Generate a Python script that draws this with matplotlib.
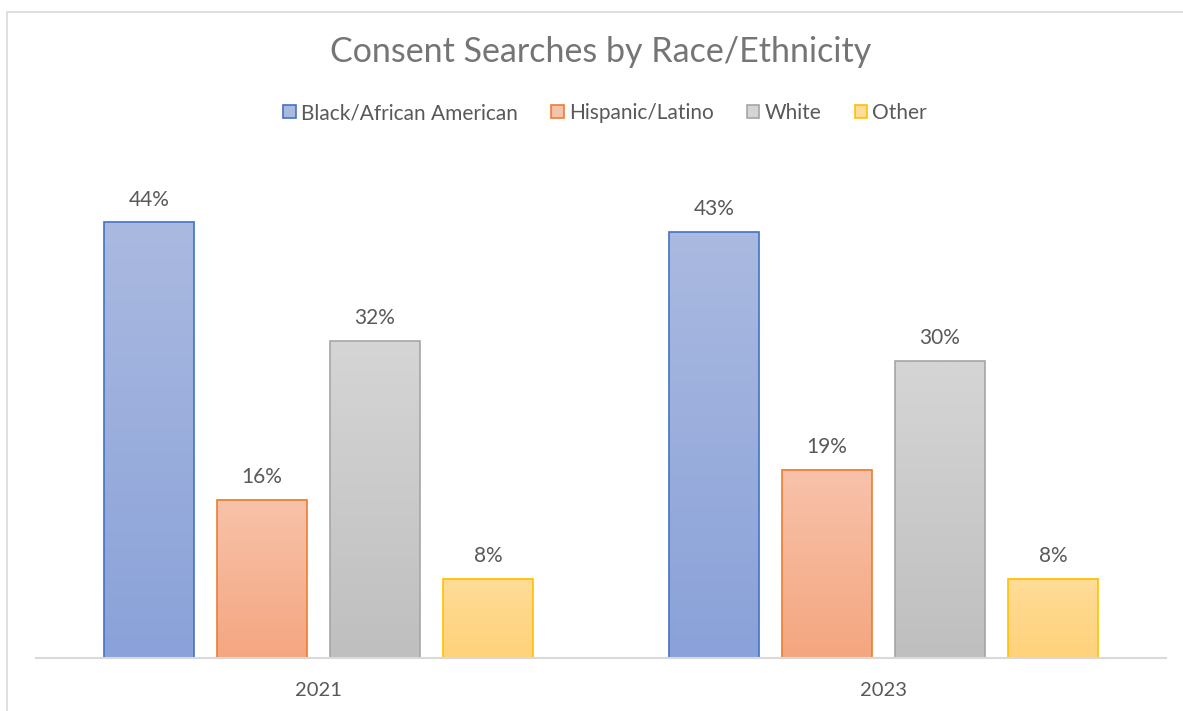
import matplotlib
matplotlib.use("Agg")
import matplotlib.pyplot as plt
import numpy as np
from matplotlib.colors import LinearSegmentedColormap
from matplotlib.patches import Rectangle, Patch

years = ["2021", "2023"]
groups = ["Black/African American", "Hispanic/Latino", "White", "Other"]
values = {
    "Black/African American": [44, 43],
    "Hispanic/Latino": [16, 19],
    "White": [32, 30],
    "Other": [8, 8],
}
edge_colors = ["#4472C4", "#ED7D31", "#A5A5A5", "#FFC000"]
top_colors = ["#AAB9E0", "#F8C2AA", "#D5D5D5", "#FFDC98"]
bottom_colors = ["#8AA2D9", "#F4A680", "#BFBFBF", "#FFD27A"]

plt.rcParams['font.family'] = ['Lato', 'DejaVu Sans']
W, H = 1183, 711
fig = plt.figure(figsize=(W / 100, H / 100), dpi=100)
fig.patch.set_facecolor("white")

# chart border
fig.patches.append(Rectangle((7 / W, -0.2), 1.2, 1.2 - 12 / H + 0.0, transform=fig.transFigure,
                             fill=False, edgecolor="#D9D9D9", linewidth=1.2, zorder=0))

ax = fig.add_axes([36 / W, (H - 658) / H, 1130 / W, (658 - 163) / H])
ax.set_xlim(-0.5, 1.5)
ax.set_ylim(0, 50)

x = np.arange(len(years))
width = 0.159
offsets = [-0.3, -0.1, 0.1, 0.3]
handles = []
for i, g in enumerate(groups):
    bars = ax.bar(x + offsets[i], values[g], width=width, facecolor="none",
                  edgecolor=edge_colors[i], linewidth=1.2, zorder=3)
    cmap = LinearSegmentedColormap.from_list(g, [bottom_colors[i], top_colors[i]])
    for b, v in zip(bars, values[g]):
        x0, y0 = b.get_x(), b.get_y()
        grad = np.linspace(0, 1, 100).reshape(-1, 1)
        ax.imshow(grad, cmap=cmap, origin="lower", aspect="auto",
                  extent=(x0, x0 + b.get_width(), y0, y0 + b.get_height()), zorder=2)
        ax.text(b.get_x() + b.get_width() / 2, v + 1.3, f"{v}%", ha="center", va="bottom",
                fontsize=15, color="#595959")
    handles.append(Patch(facecolor=top_colors[i], edgecolor=edge_colors[i], linewidth=1.2, label=g))

ax.set_xlim(-0.5, 1.5)
ax.set_ylim(0, 50)
ax.set_xticks(x)
ax.set_xticklabels(years, fontsize=14.5, color="#595959")
ax.tick_params(axis="x", length=0, pad=17)
ax.set_yticks([])
for s in ["top", "right", "left"]:
    ax.spines[s].set_visible(False)
ax.spines["bottom"].set_color("#D9D9D9")
ax.spines["bottom"].set_linewidth(1.5)
ax.spines["bottom"].set_zorder(4)

fig.text(601 / W, 1 - 52 / H, "Consent Searches by Race/Ethnicity", ha="center", va="center",
         fontsize=24.5, color="#757575")
fig.legend(handles=handles, loc="center", bbox_to_anchor=(605 / W, 1 - 113 / H), ncol=4,
           frameon=False, fontsize=15, labelcolor="#595959", handlelength=0.6, handleheight=0.6,
           handletextpad=0.25, columnspacing=1.6)

fig.savefig("out.png", dpi=100)
